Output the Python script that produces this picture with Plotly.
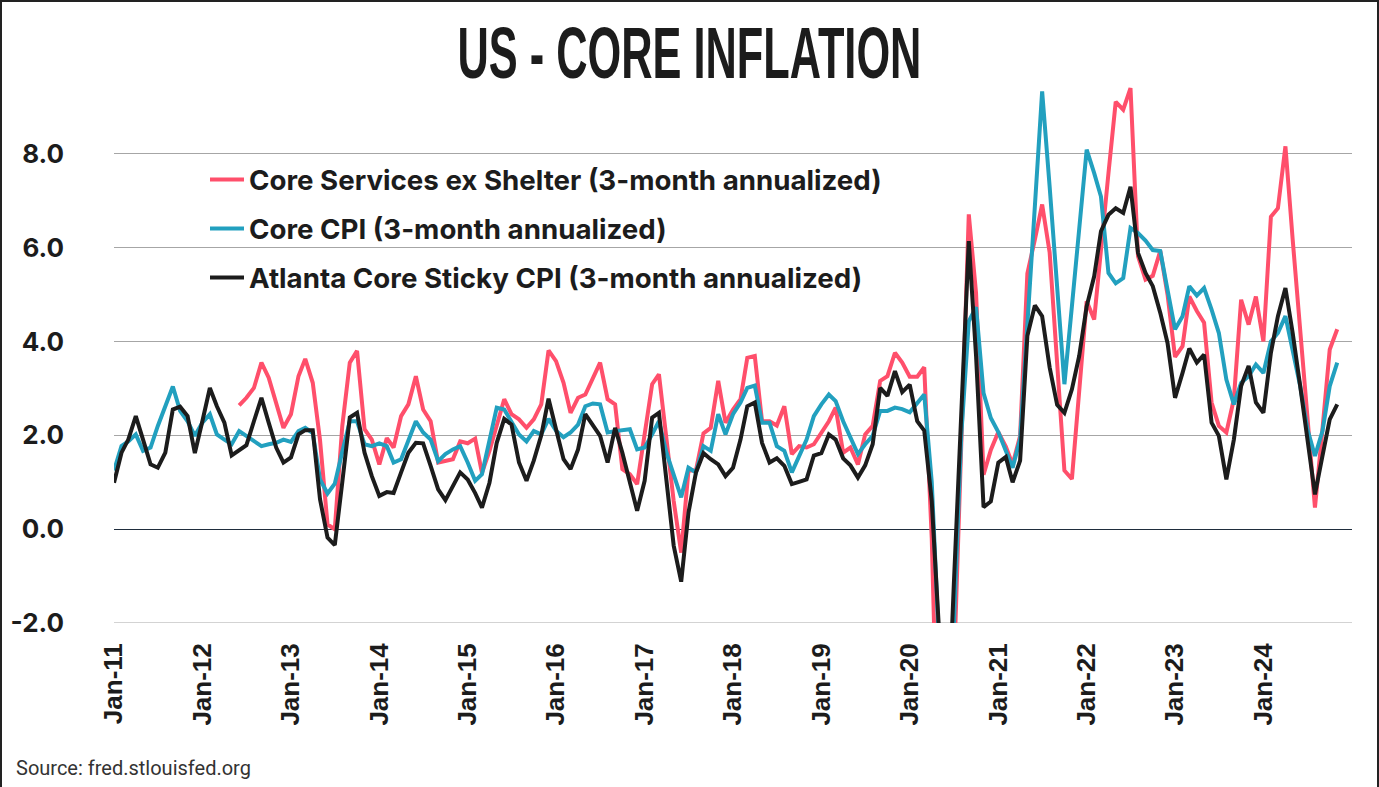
import pandas as pd
import plotly.graph_objects as go

dates = pd.date_range("2011-01-01", periods=167, freq="MS")

core_cpi = [1.25, 1.77, 1.87, 2.02, 1.67, 1.74, 2.20, 2.62, 3.04, 2.52, 2.30, 1.99,
            2.27, 2.45, 2.02, 1.91, 1.81, 2.09, 1.99, 1.87, 1.77, 1.81, 1.84, 1.91,
            1.86, 2.09, 2.16, 2.05, 1.06, 0.76, 0.97, 1.65, 2.30, 2.30, 1.81, 1.77,
            1.83, 1.77, 1.42, 1.49, 1.91, 2.30, 2.06, 1.91, 1.45, 1.60, 1.70, 1.77,
            1.42, 1.03, 1.17, 1.91, 2.59, 2.55, 2.27, 2.02, 1.87, 2.09, 2.02, 2.35,
            2.10, 1.96, 2.06, 2.23, 2.62, 2.68, 2.66, 2.06, 2.09, 2.11, 2.13, 1.70,
            1.74, 2.02, 2.30, 1.63, 1.17, 0.68, 1.31, 1.21, 1.77, 1.67, 2.45, 2.02,
            2.45, 2.70, 3.01, 3.06, 2.27, 2.27, 1.77, 1.67, 1.21, 1.56, 1.91, 2.41,
            2.66, 2.87, 2.73, 2.30, 1.94, 1.60, 1.81, 1.99, 2.52, 2.52, 2.59, 2.56,
            2.49, 2.68, 2.87, 1.00, -2.50, -6.00, -2.10, 2.00, 4.43, 4.73, 2.90, 2.37,
            2.07, 1.69, 1.31, 1.92, 4.27, 6.70, 9.33, 7.30, 5.10, 3.09, 4.75, 6.45,
            8.09, 7.59, 7.09, 5.46, 5.24, 5.35, 6.42, 6.31, 6.15, 5.95, 5.93, 5.10,
            4.26, 4.54, 5.18, 4.98, 5.14, 4.68, 4.18, 3.19, 2.66, 3.12, 3.26, 3.51,
            3.33, 4.00, 4.18, 4.54, 3.76, 3.05, 2.13, 1.56, 2.09, 3.05, 3.55]

services_ex_shelter = [None] * 17 + [
            2.64, 2.80, 3.01, 3.55, 3.23, 2.70, 2.16,
            2.45, 3.26, 3.63, 3.12, 1.90, 0.10, 0.00, 2.20, 3.55, 3.80, 2.13, 1.91,
            1.38, 1.94, 1.74, 2.41, 2.66, 3.26, 2.55, 2.30, 1.42, 1.45, 1.49, 1.87,
            1.83, 1.93, 1.20, 1.67, 2.20, 2.77, 2.45, 2.34, 2.16, 2.34, 2.66, 3.81,
            3.58, 3.12, 2.48, 2.80, 2.87, 3.23, 3.55, 2.77, 2.66, 1.28, 1.17, 0.96,
            1.99, 3.09, 3.30, 1.90, 0.60, -0.50, 1.25, 1.25, 2.04, 2.16, 3.16, 2.27,
            2.55, 2.77, 3.65, 3.69, 2.30, 2.30, 2.21, 2.62, 1.60, 1.77, 1.74, 1.81,
            2.06, 2.30, 2.59, 1.63, 1.74, 1.38, 2.02, 2.20, 3.16, 3.26, 3.76, 3.55,
            3.25, 3.25, 3.45, -0.20, -6.00, -7.00, -3.10, 1.90, 6.71, 5.03, 1.16, 1.69,
            2.07, 1.76, 1.38, 1.99, 5.45, 6.17, 6.92, 5.90, 3.62, 1.25, 1.07, 2.98,
            4.86, 4.47, 6.03, 7.59, 9.11, 8.94, 9.40, 5.82, 5.32, 5.40, 5.93, 5.00,
            3.67, 3.90, 4.96, 4.65, 4.40, 2.70, 2.20, 2.06, 2.77, 4.89, 4.36, 4.96,
            4.00, 6.66, 6.84, 8.16, 6.17, 4.18, 2.20, 0.46, 2.13, 3.83, 4.26]

sticky_cpi = [0.99, 1.63, 1.91, 2.41, 1.91, 1.38, 1.31, 1.63, 2.55, 2.61, 2.41, 1.62,
              2.30, 3.01, 2.62, 2.27, 1.57, 1.67, 1.79, 2.30, 2.80, 2.27, 1.74, 1.42,
              1.53, 2.02, 2.11, 2.11, 0.64, -0.18, -0.34, 1.00, 2.38, 2.48, 1.63, 1.13,
              0.71, 0.79, 0.77, 1.21, 1.63, 1.84, 1.83, 1.35, 0.85, 0.62, 0.91, 1.21,
              1.06, 0.77, 0.46, 0.99, 1.84, 2.35, 2.23, 1.42, 1.03, 1.46, 2.00, 2.78,
              2.13, 1.49, 1.28, 1.70, 2.45, 2.20, 1.99, 1.42, 2.16, 1.63, 1.03, 0.39,
              1.03, 2.38, 2.48, 1.06, -0.35, -1.12, 0.35, 1.21, 1.62, 1.49, 1.38, 1.13,
              1.31, 1.91, 2.62, 2.70, 1.84, 1.42, 1.51, 1.35, 0.96, 1.01, 1.06, 1.57,
              1.62, 2.02, 1.91, 1.51, 1.36, 1.10, 1.36, 1.81, 3.01, 2.84, 3.37, 2.92,
              3.08, 2.30, 2.10, 0.60, -3.00, -5.00, -1.20, 2.60, 6.14, 3.70, 0.47, 0.59,
              1.42, 1.54, 1.00, 1.46, 4.12, 4.77, 4.54, 3.45, 2.65, 2.48, 2.98, 3.69,
              4.75, 5.39, 6.35, 6.70, 6.84, 6.74, 7.30, 5.89, 5.46, 5.18, 4.61, 3.97,
              2.80, 3.33, 3.85, 3.55, 3.72, 2.27, 1.99, 1.06, 1.91, 3.05, 3.48, 2.70,
              2.48, 3.76, 4.54, 5.14, 4.18, 3.05, 1.91, 0.74, 1.56, 2.34, 2.66]

series_names = ["Core Services ex Shelter (3-month annualized)",
                "Core CPI (3-month annualized)",
                "Atlanta Core Sticky CPI (3-month annualized)"]
series_colors = ["#FF4F6B", "#22A0BF", "#1C1C1C"]

tick_dates = pd.date_range("2011-01-01", "2024-01-01", freq="YS")
tick_labels = [d.strftime("Jan-%y") for d in tick_dates]
y_ticks = [-2, 0, 2, 4, 6, 8]
y_tick_labels = ["-2.0", "0.0", "2.0", "4.0", "6.0", "8.0"]

fig = go.Figure()
for name, vals, col, grp in zip(series_names,
                                [services_ex_shelter, core_cpi, sticky_cpi],
                                series_colors, ["a", "b", "c"]):
    fig.add_trace(go.Scatter(x=dates, y=vals, name=name, mode="lines",
                             line=dict(color=col, width=4), connectgaps=False,
                             legendgroup=grp))

W, H = 1379, 787
L, R, T, B = 114, 27, 60, 164
pw, ph = W - L - R, H - T - B

fig.update_layout(
    width=W, height=H,
    margin=dict(l=L, r=R, t=T, b=B),
    paper_bgcolor="white", plot_bgcolor="white",
    title=dict(text="US - CORE INFLATION", x=0.5, xref="container",
               xanchor="center", y=1 - 53 / H, yref="container", yanchor="middle",
               font=dict(family="Liberation Sans", size=72, color="#1C1C1C",
                         weight="bold")),
    legend=dict(x=(205 - L) / pw, xanchor="left", y=(H - B - 155) / ph, yanchor="top",
                bgcolor="rgba(0,0,0,0)", borderwidth=0, itemwidth=34,
                traceorder="grouped", tracegroupgap=10,
                font=dict(family="Inter", size=27.7, color="#1C1C1C", weight="bold")),
    showlegend=True,
    xaxis=dict(range=["2011-01-01", "2025-01-01"], tickvals=tick_dates,
               ticktext=tick_labels, tickangle=-90, showgrid=False,
               showline=False, zeroline=False, ticks="", ticklabelstandoff=14,
               tickfont=dict(family="Liberation Sans", size=26, color="#1C1C1C",
                             weight="bold")),
    yaxis=dict(range=[-2, 10], tickvals=y_ticks, ticktext=y_tick_labels,
               showgrid=True, gridcolor="#A6A6A6", gridwidth=1,
               zeroline=True, zerolinecolor="#1F2D3D", zerolinewidth=1,
               showline=False, ticks="", ticklabelstandoff=49,
               tickfont=dict(family="Inter", size=26, color="#1C1C1C", weight="bold")),
    shapes=[dict(type="rect", xref="paper", yref="paper",
                 x0=(1 - L) / pw, x1=(W - 1 - L) / pw,
                 y0=(B - H + 1) / ph + 0, y1=(H - 1 - B) / ph,
                 line=dict(color="#222222", width=2), layer="above")],
    annotations=[dict(text="Source: fred.stlouisfed.org", xref="paper", yref="paper",
                      x=(14 - L) / pw, xanchor="left", y=-(768 - (H - B)) / ph,
                      yanchor="middle", showarrow=False,
                      font=dict(family="Roboto", size=20, color="#333333"))],
)
fig.add_shape(type="line", xref="paper", yref="y", x0=0, x1=1, y0=-2, y1=-2,
              line=dict(color="#A6A6A6", width=1), layer="below")

squeeze_title = """
var gd = document.getElementById('{plot_id}');
function squeezeTitle() {
  var t = gd.querySelector('.gtitle');
  if (!t) return;
  t.removeAttribute('transform');
  var bb = t.getBBox();
  if (!bb.width) return;
  var cx = bb.x + bb.width / 2;
  var s = 464 / bb.width;
  t.setAttribute('transform', 'translate(' + cx + ',0) scale(' + s + ',1) translate(' + (-cx) + ',0)');
}
squeezeTitle();
gd.on('plotly_afterplot', squeezeTitle);
"""

fig.write_html("out.html", post_script=squeeze_title)
